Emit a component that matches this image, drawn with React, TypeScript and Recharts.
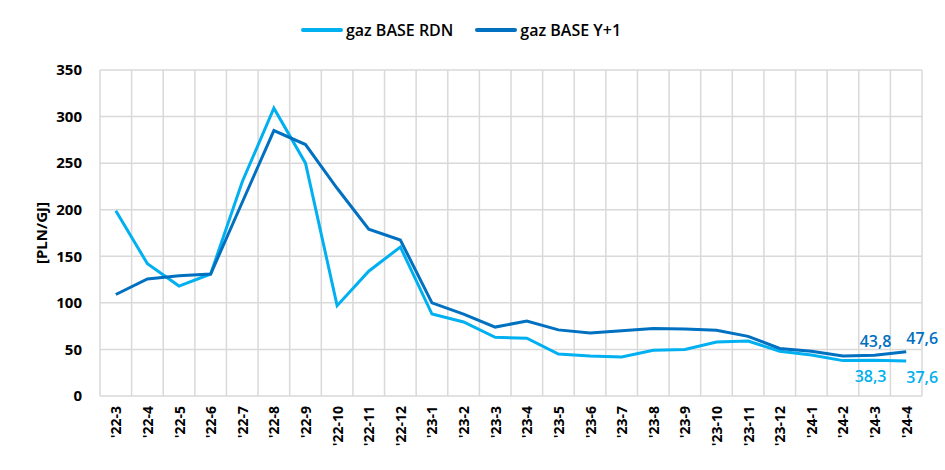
import React from 'react';
import { LineChart, Line, XAxis, YAxis, CartesianGrid, Legend, LabelList } from 'recharts';

const categories = ["'22-3","'22-4","'22-5","'22-6","'22-7","'22-8","'22-9","'22-10","'22-11","'22-12","'23-1","'23-2","'23-3","'23-4","'23-5","'23-6","'23-7","'23-8","'23-9","'23-10","'23-11","'23-12","'24-1","'24-2","'24-3","'24-4"];
const rdn = [199, 142, 118, 131, 230, 309, 250, 97, 134, 160, 88, 79.5, 63, 62, 45, 43, 42, 49, 50, 58, 59, 48, 44, 38, 38.3, 37.6];
const y1 = [109, 125.6, 129, 131, 208, 285, 270, 223, 179, 167.5, 100, 88, 74, 80.5, 71, 67.6, 70, 72.5, 72, 70.5, 64, 51, 48, 43, 43.8, 47.6];
const yTicks = [0, 50, 100, 150, 200, 250, 300, 350];
const labelledIdx = [24, 25];

const data = categories.map((c, i) => ({ cat: c, rdn: rdn[i], y1: y1[i] }));

const LIGHT = '#00b0f0';
const DARK = '#0070c0';
const FONT = 'Open Sans, sans-serif';

const fmt = (v: number) => v.toFixed(1).replace('.', ',');

const makeLabel = (color: string, above: boolean) => (props: any) => {
  const { x, y, value, index } = props;
  if (!labelledIdx.includes(index)) return null;
  const last = index === categories.length - 1;
  const dx = last ? 16 : (above ? 1 : -4);
  const dy = above ? -8 : 22;
  return (
    <text x={x + dx} y={y + dy} fill={color} fontSize={16} fontWeight={600} fontFamily={FONT} textAnchor="middle">
      {fmt(value)}
    </text>
  );
};

const XTick = (props: any) => {
  const { x, y, payload } = props;
  return (
    <text x={x} y={y} transform={`rotate(-90 ${x} ${y})`} textAnchor="end" dominantBaseline="central" fontSize={14} fontWeight={700} fontFamily={FONT} fill="#000">
      {payload.value}
    </text>
  );
};

const LegendContent = () => (
  <div style={{ display: 'flex', justifyContent: 'center', fontFamily: FONT, fontWeight: 600, fontSize: 16, color: '#000', height: 20, lineHeight: '20px' }}>
    {[{ c: LIGHT, t: 'gaz BASE RDN' }, { c: DARK, t: 'gaz BASE Y+1' }].map((it, i) => (
      <div key={i} style={{ display: 'flex', alignItems: 'center', marginLeft: i ? 22 : 0 }}>
        <svg width={42} height={6} style={{ marginRight: 3 }}>
          <line x1={2} y1={3} x2={40} y2={3} stroke={it.c} strokeWidth={4} strokeLinecap="round" />
        </svg>
        <span>{it.t}</span>
      </div>
    ))}
  </div>
);

export default function App() {
  return (
    <div style={{ position: 'absolute', left: 0, top: 0, width: 945, height: 470, background: '#fff' }}>
      <LineChart width={945} height={470} data={data} margin={{ top: 50, right: 23, bottom: 0, left: 0 }}>
        <CartesianGrid
          stroke="#d9d9d9"
          strokeWidth={1.5}
          verticalCoordinatesGenerator={({ offset }: any) =>
            Array.from({ length: categories.length + 1 }, (_, i) => offset.left + (i * offset.width) / categories.length)
          }
        />
        <XAxis dataKey="cat" scale="band" interval={0} height={74} tick={<XTick />} tickLine={false} axisLine={false} tickMargin={4} />
        <YAxis
          domain={[0, 350]}
          ticks={yTicks}
          width={100}
          tickLine={false}
          axisLine={false}
          tickMargin={12}
          tick={{ fontSize: 15, fontWeight: 700, fontFamily: FONT, fill: '#000' }}
          label={{ value: '[PLN/GJ]', angle: -90, position: 'insideLeft', offset: 42, style: { fontSize: 15, fontWeight: 700, fontFamily: FONT, fill: '#000', textAnchor: 'middle' } }}
        />
        <Legend verticalAlign="top" align="center" wrapperStyle={{ top: 20 }} content={<LegendContent />} />
        <Line type="linear" dataKey="rdn" name="gaz BASE RDN" stroke={LIGHT} strokeWidth={3} dot={false} isAnimationActive={false}>
          <LabelList dataKey="rdn" content={makeLabel(LIGHT, false)} />
        </Line>
        <Line type="linear" dataKey="y1" name="gaz BASE Y+1" stroke={DARK} strokeWidth={3} dot={false} isAnimationActive={false}>
          <LabelList dataKey="y1" content={makeLabel(DARK, true)} />
        </Line>
      </LineChart>
    </div>
  );
}
